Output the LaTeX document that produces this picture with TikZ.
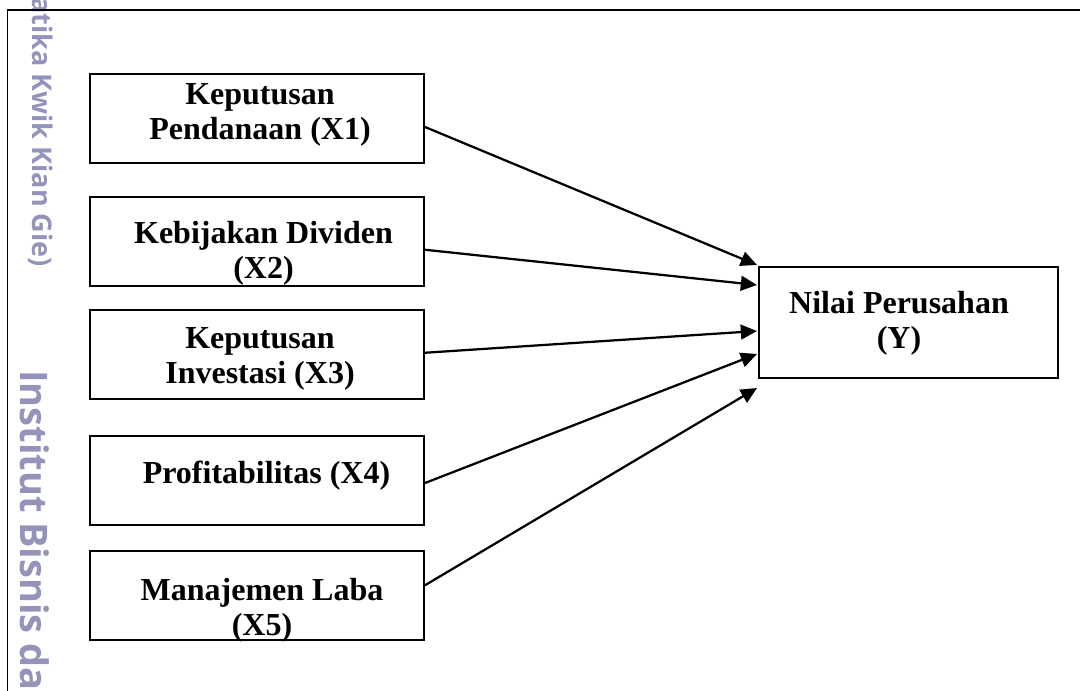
\documentclass[tikz,border=0pt]{standalone}
\usepackage{fontspec}
\setmainfont{Liberation Serif}
\newfontfamily\wmfont{Open Sans}
\usetikzlibrary{arrows.meta,calc}
\definecolor{wmgray}{RGB}{148,148,186}

\begin{document}
\begin{tikzpicture}[
    x=0.025cm, y=-0.025cm,
    varbox/.style={draw=black, line width=1.4pt, minimum width=8.35cm, minimum height=2.225cm, inner sep=0pt},
    vartext/.style={anchor=north, inner sep=0pt, align=center, font=\bfseries\fontsize{22.76pt}{25pt}\selectfont},
    link/.style={-{Triangle[length=11.5pt, width=10.5pt]}, line width=1.6pt},
    wmark/.style={rotate=-90, inner sep=0pt, text=wmgray}
]
    \useasboundingbox (0,0) rectangle (1080,691);
    \clip (0,0) rectangle (1080,691);

    % Watermark
    \node[wmark, anchor=base east, font=\wmfont\bfseries\fontsize{19.2pt}{23pt}\selectfont] (wmtop) at (32,267) {atika Kwik Kian Gie)};
    \node[wmark, anchor=base west, font=\wmfont\bfseries\fontsize{27pt}{32pt}\selectfont] (wmbottom) at (20,370) {Institut Bisnis dan};

    % Frame
    \draw[line width=1.4pt] (7.5,700) -- (7.5,10) -- (1090,10);

    % Nodes
    \node[varbox] (pendanaan) at (257,118.5) {};
    \node[varbox] (dividen) at (257,241.25) {};
    \node[varbox] (investasi) at (257,354.75) {};
    \node[varbox] (profit) at (257,480.5) {};
    \node[varbox] (laba) at (257,595.25) {};
    \node[varbox, minimum width=7.475cm, minimum height=2.775cm] (nilai) at (908.5,322.5) {};

    % Texts
    \node[vartext] (pendanaantext) at (260,83) {Keputusan\\Pendanaan (X1)};
    \node[vartext] (dividentext) at (263.5,221) {Kebijakan Dividen\\(X2)};
    \node[vartext] (investasitext) at (260,327) {Keputusan\\Investasi (X3)};
    \node[vartext] (profittext) at (266.5,461) {Profitabilitas (X4)};
    \node[vartext] (labatext) at (262,578) {Manajemen Laba\\(X5)};
    \node[vartext] (nilaitext) at (899,291) {Nilai Perusahan\\(Y)};

    % Edges
    \draw[link] ($(pendanaan.east)+(0,8.5)$) -- ($(nilai.west)+(-1,-57.5)$);
    \draw[link] ($(dividen.east)+(0,8.5)$) -- ($(nilai.west)+(-1,-37.5)$);
    \draw[link] ($(investasi.east)+(0,-2)$) -- ($(nilai.west)+(-1,8.5)$);
    \draw[link] ($(profit.east)+(0,2.5)$) -- ($(nilai.west)+(-1,31.5)$);
    \draw[link] ($(laba.east)+(0,-10)$) -- ($(nilai.west)+(-1,65.5)$);

\end{tikzpicture}
\end{document}
